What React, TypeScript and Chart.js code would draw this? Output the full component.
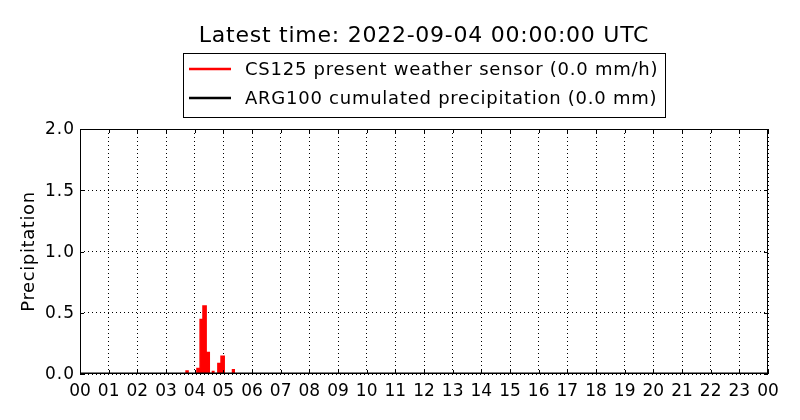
import React, { useEffect, useRef } from "react";
import { Chart, registerables } from "chart.js";

Chart.register(...registerables);

const titleText = "Latest time: 2022-09-04 00:00:00 UTC";
const cs125Label = "CS125 present weather sensor (0.0 mm/h)";
const arg100Label = "ARG100 cumulated precipitation (0.0 mm)";
const yAxisLabel = "Precipitation";

// hours since 00 UTC, precipitation rate (mm/h), held until next sample
const cs125Hours = [0, 3.7, 3.77, 4.08, 4.19, 4.29, 4.4, 4.51, 4.62, 4.67, 4.81, 4.92, 5.03, 5.32, 5.38, 24];
const cs125Values = [0, 0.025, 0, 0.045, 0.445, 0.555, 0.175, 0, 0.02, 0, 0.085, 0.145, 0, 0.035, 0, 0];

const arg100Hours = [0, 24];
const arg100Values = [0, 0];

const hourLabels = [
  "00", "01", "02", "03", "04", "05", "06", "07", "08", "09", "10", "11",
  "12", "13", "14", "15", "16", "17", "18", "19", "20", "21", "22", "23", "00",
];
const yMin = 0;
const yMax = 2;
const yStep = 0.5;

const FONT = "'DejaVu Sans', sans-serif";

const decorPlugin = {
  id: "decor",
  afterDatasetsDraw(chart: any) {
    const { ctx, chartArea: a, scales } = chart;
    ctx.save();
    ctx.strokeStyle = "#000";
    ctx.lineWidth = 1;
    // frame
    ctx.strokeRect(a.left + 0.5, a.top + 0.5, a.right - a.left - 1, a.bottom - a.top - 1);
    // inward ticks
    const tl = 4;
    ctx.beginPath();
    for (const t of scales.x.ticks) {
      const px = Math.round(scales.x.getPixelForValue(t.value)) + 0.5;
      ctx.moveTo(px, a.bottom);
      ctx.lineTo(px, a.bottom - tl);
      ctx.moveTo(px, a.top);
      ctx.lineTo(px, a.top + tl);
    }
    for (const t of scales.y.ticks) {
      const py = Math.round(scales.y.getPixelForValue(t.value)) + 0.5;
      ctx.moveTo(a.left, py);
      ctx.lineTo(a.left + tl, py);
      ctx.moveTo(a.right, py);
      ctx.lineTo(a.right - tl, py);
    }
    ctx.stroke();
    ctx.restore();
  },
  afterDraw(chart: any) {
    const { ctx, chartArea: a, scales } = chart;
    const cx = (a.left + a.right) / 2;
    ctx.save();
    ctx.fillStyle = "#000";
    // y tick labels
    ctx.font = `17px ${FONT}`;
    (ctx as any).letterSpacing = "1px";
    ctx.textAlign = "right";
    ctx.textBaseline = "middle";
    for (const t of scales.y.ticks) {
      const py = scales.y.getPixelForValue(t.value);
      ctx.fillText(Number(t.value).toFixed(1), a.left - 5, py + 1);
    }
    // title
    ctx.font = `22px ${FONT}`;
    (ctx as any).letterSpacing = "0.75px";
    ctx.textAlign = "center";
    ctx.textBaseline = "alphabetic";
    ctx.fillText(titleText, cx, 42);
    // y axis label
    ctx.save();
    ctx.translate(29, (a.top + a.bottom) / 2);
    ctx.rotate(-Math.PI / 2);
    ctx.font = `18px ${FONT}`;
    (ctx as any).letterSpacing = "0.6px";
    ctx.textAlign = "center";
    ctx.textBaseline = "middle";
    ctx.fillText(yAxisLabel, 0, 0);
    ctx.restore();
    // legend
    ctx.font = `18px ${FONT}`;
    (ctx as any).letterSpacing = "0.75px";
    const w = Math.max(ctx.measureText(cs125Label).width, ctx.measureText(arg100Label).width);
    const boxW = Math.round(62 + w + 7);
    const left = Math.round(cx - boxW / 2);
    const top = 53;
    const bottom = 117;
    ctx.fillStyle = "#fff";
    ctx.fillRect(left, top, boxW, bottom - top);
    ctx.strokeStyle = "#000";
    ctx.lineWidth = 1;
    ctx.strokeRect(left + 0.5, top + 0.5, boxW, bottom - top);
    const items = [
      { label: cs125Label, color: "#ff0000", y: 69 },
      { label: arg100Label, color: "#000000", y: 98 },
    ];
    for (const it of items) {
      ctx.strokeStyle = it.color;
      ctx.lineWidth = 2.6;
      ctx.beginPath();
      ctx.moveTo(left + 6, it.y);
      ctx.lineTo(left + 48, it.y);
      ctx.stroke();
      ctx.fillStyle = "#000";
      ctx.textAlign = "left";
      ctx.textBaseline = "middle";
      ctx.fillText(it.label, left + 62, it.y + 1);
    }
    ctx.restore();
  },
};

export default function App() {
  const canvasRef = useRef<HTMLCanvasElement | null>(null);

  useEffect(() => {
    const canvas = canvasRef.current;
    if (!canvas) return;
    const chart = new Chart(canvas, {
      type: "line",
      data: {
        datasets: [
          {
            label: cs125Label,
            data: cs125Hours.map((h, i) => ({ x: h, y: cs125Values[i] })),
            borderColor: "#ff0000",
            backgroundColor: "#ff0000",
            borderWidth: 1.5,
            fill: "origin",
            stepped: "before",
            pointRadius: 0,
            order: 1,
          },
          {
            label: arg100Label,
            data: arg100Hours.map((h, i) => ({ x: h, y: arg100Values[i] })),
            borderColor: "#000000",
            borderWidth: 2.8,
            fill: false,
            pointRadius: 0,
            order: 0,
          },
        ],
      },
      options: {
        responsive: false,
        animation: false,
        layout: { padding: { left: 0, right: 32, top: 129, bottom: 0 } },
        plugins: {
          legend: { display: false },
          title: { display: false },
          tooltip: { enabled: false },
        },
        scales: {
          x: {
            type: "linear",
            min: 0,
            max: 24,
            border: { display: false, dash: [1, 3] },
            grid: {
              color: "#000",
              lineWidth: 1,
              drawTicks: false,
            },
            ticks: {
              stepSize: 1,
              autoSkip: false,
              maxRotation: 0,
              padding: 7,
              color: "#000",
              font: { family: FONT, size: 17 },
              callback: (_v: any, i: number) => hourLabels[i],
            },
            afterFit: (s: any) => {
              s.height = 46;
            },
          },
          y: {
            type: "linear",
            min: yMin,
            max: yMax,
            border: { display: false, dash: [1, 3] },
            grid: {
              color: "#000",
              lineWidth: 1,
              drawTicks: false,
            },
            ticks: {
              stepSize: yStep,
              display: false,
            },
            afterFit: (s: any) => {
              s.width = 80;
            },
          },
        },
      },
      plugins: [decorPlugin],
    });
    return () => chart.destroy();
  }, []);

  return (
    <div style={{ position: "fixed", left: 0, top: 0, width: 800, height: 420, background: "#fff" }}>
      <canvas ref={canvasRef} width={800} height={420} style={{ display: "block" }} />
    </div>
  );
}
